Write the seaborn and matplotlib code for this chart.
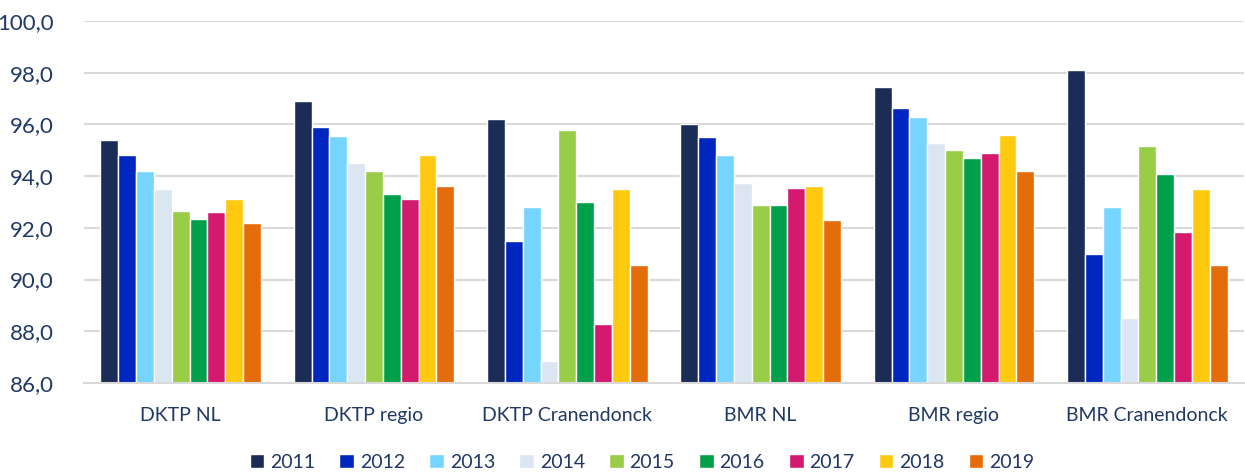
import numpy as np
import pandas as pd
import matplotlib
matplotlib.use("Agg")
import matplotlib.pyplot as plt
from matplotlib.ticker import FuncFormatter
import seaborn as sns

categories = ["DKTP NL", "DKTP regio", "DKTP Cranendonck", "BMR NL", "BMR regio", "BMR Cranendonck"]
years = ["2011", "2012", "2013", "2014", "2015", "2016", "2017", "2018", "2019"]

# one list per category, values per year 2011..2019
dktp_nl = [95.4, 94.8, 94.2, 93.5, 92.65, 92.35, 92.6, 93.1, 92.2]
dktp_regio = [96.9, 95.9, 95.55, 94.5, 94.2, 93.3, 93.1, 94.8, 93.6]
dktp_cran = [96.2, 91.5, 92.8, 86.85, 95.8, 93.0, 88.3, 93.5, 90.55]
bmr_nl = [96.0, 95.5, 94.8, 93.75, 92.9, 92.9, 93.55, 93.6, 92.3]
bmr_regio = [97.45, 96.65, 96.3, 95.3, 95.0, 94.7, 94.9, 95.6, 94.2]
bmr_cran = [98.1, 91.0, 92.8, 88.5, 95.15, 94.1, 91.85, 93.5, 90.55]

colors = ["#1B2C56", "#0026C0", "#75D5FF", "#DCE6F2", "#99CC47",
          "#00A04A", "#D31A6E", "#FFC910", "#E46C0A"]

rows = []
for cat, vals in zip(categories, [dktp_nl, dktp_regio, dktp_cran, bmr_nl, bmr_regio, bmr_cran]):
    for y, v in zip(years, vals):
        rows.append({"categorie": cat, "jaar": y, "waarde": v})
df = pd.DataFrame(rows)

sns.set_style("white")
plt.rcParams['font.family'] = ['Lato', 'DejaVu Sans']
txt = "#1F3864"

fig = plt.figure(figsize=(12.45, 4.74), dpi=100)
ax = fig.add_axes([84 / 1245, 1 - 383 / 474, 1160 / 1245, 362 / 474])

sns.barplot(data=df, x="categorie", y="waarde", hue="jaar", palette=colors,
            saturation=1, width=0.83, edgecolor="white", linewidth=1, ax=ax)

ax.set_ylim(86, 100)
ax.set_yticks(np.arange(86, 101, 2))
ax.yaxis.set_major_formatter(FuncFormatter(lambda v, p: f"{v:.1f}".replace(".", ",")))
ax.grid(axis="y", color="#D9D9D9", linewidth=1.5)
ax.set_axisbelow(True)
for s in ["top", "right", "left"]:
    ax.spines[s].set_visible(False)
ax.spines["bottom"].set_color("#D9D9D9")
ax.spines["bottom"].set_linewidth(1.5)
ax.tick_params(axis="y", length=0, labelsize=16, labelcolor=txt, pad=22)
ax.tick_params(axis="x", length=0, labelsize=14, labelcolor=txt, pad=17)
ax.set_xlabel("")
ax.set_ylabel("")

ax.legend(loc="upper center", bbox_to_anchor=(0.5 - 22 / 1160, -0.148), ncol=9, frameon=False,
          fontsize=14, handlelength=0.75, handleheight=0.75, handletextpad=0.3,
          columnspacing=1.25, labelcolor=txt)

fig.savefig("out.png", dpi=100)
